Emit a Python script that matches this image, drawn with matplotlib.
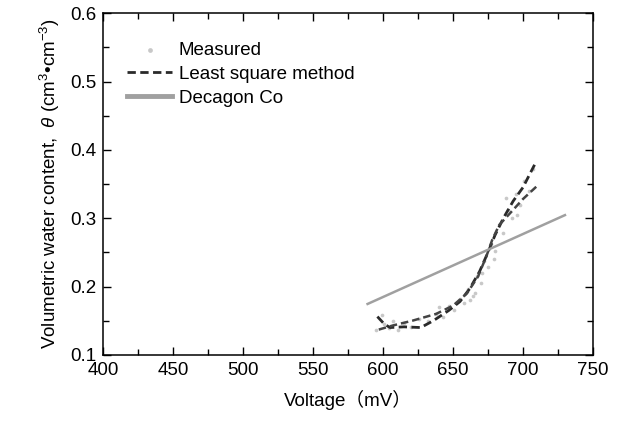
"""Calibração do sensor: teor volumétrico de água versus tensão."""

import matplotlib
matplotlib.use('Agg')
import matplotlib.pyplot as plt
from matplotlib.ticker import MultipleLocator

plt.rcParams['font.family'] = ['Liberation Sans', 'Noto Sans CJK JP', 'DejaVu Sans']
plt.rcParams['mathtext.fontset'] = 'custom'
plt.rcParams['mathtext.rm'] = 'Liberation Sans'
plt.rcParams['mathtext.it'] = 'Liberation Sans:italic'

# medidos (mV, cm3/cm3)
meas_v = [595, 599, 601, 604, 607, 611, 615, 620, 626, 632, 638, 643, 647,
          651, 655, 658, 661, 664, 667, 670, 672, 675, 677, 680, 683, 686,
          689, 692, 695, 698, 701, 704, 707, 662, 666, 671, 679, 688, 696, 640]
meas_t = [0.136, 0.158, 0.145, 0.139, 0.150, 0.137, 0.146, 0.141, 0.152, 0.149,
          0.160, 0.155, 0.171, 0.166, 0.182, 0.176, 0.197, 0.186, 0.215, 0.205,
          0.238, 0.228, 0.262, 0.252, 0.290, 0.278, 0.312, 0.300, 0.335, 0.320,
          0.355, 0.340, 0.372, 0.180, 0.190, 0.220, 0.240, 0.330, 0.305, 0.170]

# mínimos quadrados (duas curvas)
ls1_v = [596, 601, 605, 615, 627, 636, 647, 655, 662, 669, 675, 680, 686, 693,
         700, 709]
ls1_t = [0.156, 0.145, 0.140, 0.141, 0.140, 0.150, 0.165, 0.178, 0.197, 0.222,
         0.250, 0.275, 0.300, 0.325, 0.345, 0.381]
ls2_v = [597, 607, 621, 638, 650, 660, 668, 674, 678, 683, 692, 700, 710]
ls2_t = [0.137, 0.143, 0.150, 0.160, 0.172, 0.190, 0.215, 0.245, 0.268, 0.290,
         0.310, 0.328, 0.347]

# Decagon Co
dec_v = [589, 730]
dec_t = [0.1745, 0.3045]


def main():
    fig = plt.figure(figsize=(6.17, 4.25), dpi=100)
    ax = fig.add_axes([0.167, 0.165, 0.794, 0.804])

    ax.scatter(meas_v, meas_t, s=7, color='#c8c8c8', lw=0, label='Measured',
               zorder=2)
    ax.plot(ls1_v, ls1_t, ls=(0, (3, 1.6)), color='#2a2a2a', lw=2.0,
            label='Least square method', zorder=3)
    ax.plot(ls2_v, ls2_t, ls=(0, (3, 1.6)), color='#444444', lw=1.8, zorder=3)
    ax.plot(dec_v, dec_t, color='#a0a0a0', lw=1.8, label='Decagon Co', zorder=4)

    ax.set_xlim(400, 750)
    ax.set_ylim(0.1, 0.6)
    ax.xaxis.set_major_locator(MultipleLocator(50))
    ax.xaxis.set_minor_locator(MultipleLocator(25))
    ax.yaxis.set_major_locator(MultipleLocator(0.1))
    ax.yaxis.set_minor_locator(MultipleLocator(0.05))
    ax.yaxis.set_major_formatter(lambda v, p: f'{v:.1f}')
    ax.tick_params(which='both', direction='in', top=True, right=True,
                   labelsize=13.5, pad=5, width=1.0)
    ax.tick_params(which='major', length=6)
    ax.tick_params(which='minor', length=4)
    for s in ax.spines.values():
        s.set_linewidth(1.1)

    ax.set_xlabel('Voltage（mV）', fontsize=13.5, labelpad=8)
    ax.set_ylabel(r'Volumetric water content,  $\it{\theta}$ (cm$^3$•cm$^{-3}$)',
                  fontsize=13.5, labelpad=6)

    leg = ax.legend(loc='upper left', bbox_to_anchor=(0.015, 0.965),
                    frameon=False, fontsize=13.5, handlelength=2.4,
                    handletextpad=0.35, labelspacing=0.35, markerscale=1.3)
    lines = leg.get_lines()
    if len(lines) > 1:
        lines[-1].set_linewidth(3.5)

    fig.savefig('out.png', dpi=100)
    print('OK: out.png')


if __name__ == '__main__':
    main()
